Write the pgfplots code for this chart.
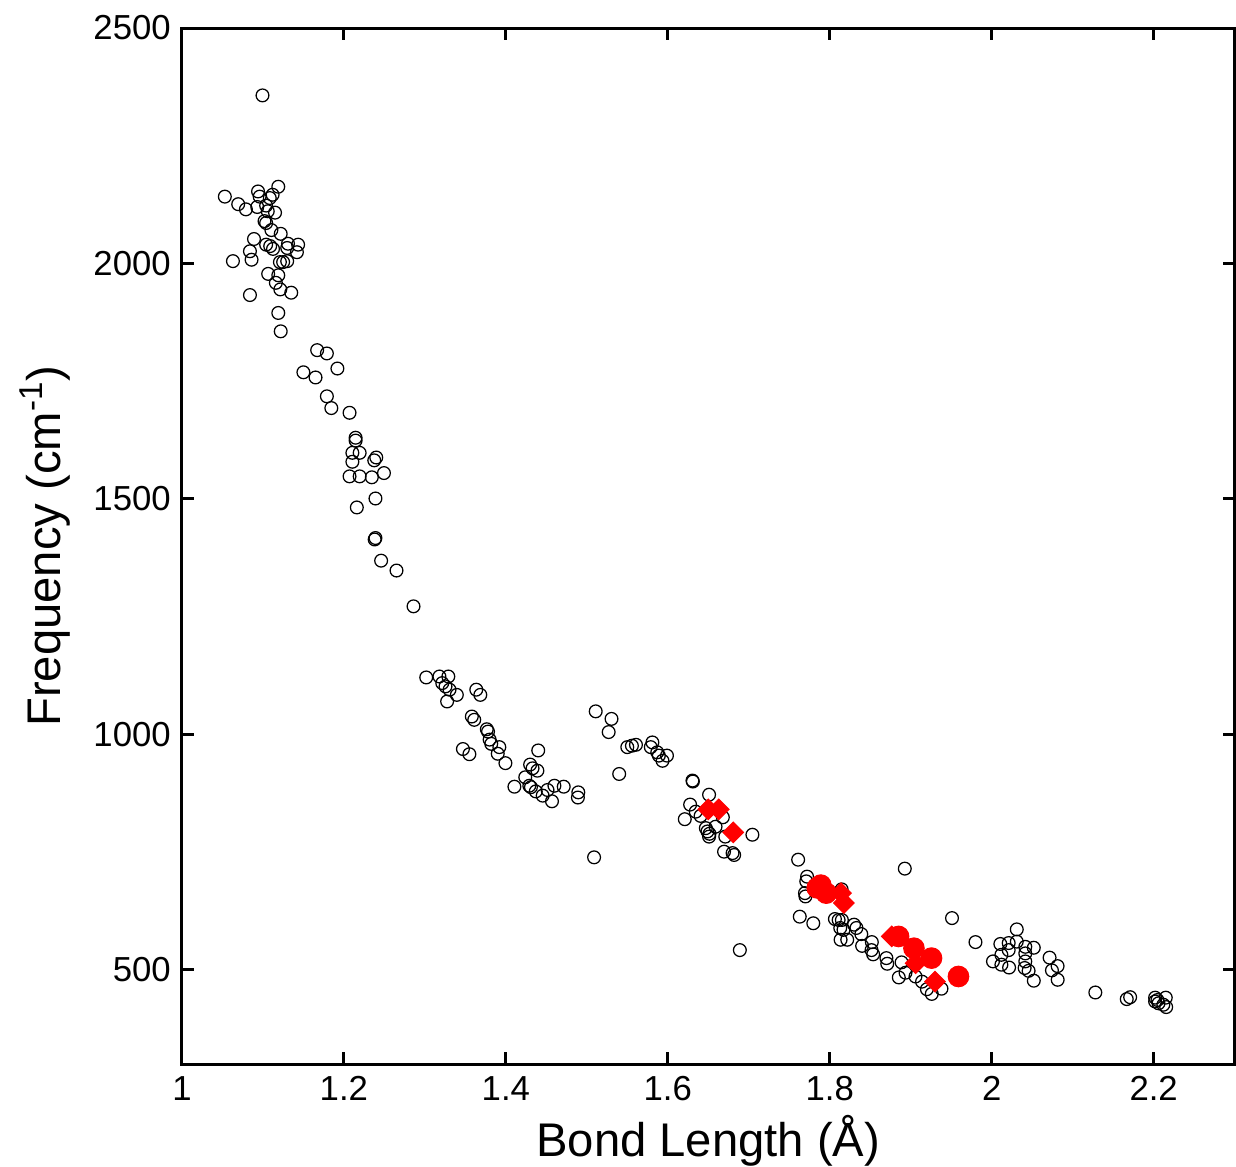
\documentclass[border=0pt]{standalone}
\usepackage{pgfplots}
\pgfplotsset{compat=1.18}
\usepackage{fontspec}
\setmainfont{Liberation Sans}
\begin{document}
\begin{tikzpicture}
\begin{axis}[
  name=ax,
  scale only axis,
  width=379pt, height=373pt,
  xmin=1, xmax=2.3, ymin=300, ymax=2500,
  xtick={1,1.2,...,2.21}, ytick={500,1000,...,2500},
  xticklabels={1,1.2,1.4,1.6,1.8,2,2.2},
  /pgf/number format/1000 sep={},
  tick align=inside, tick pos=both,
  major tick length=4.3pt,
  axis line style={line width=1.1pt},
  every tick/.style={line width=1.1pt, black},
  tick label style={font=\fontsize{12.5}{14}\selectfont},
  /pgf/number format/assume math mode=true,
  yticklabel style={xshift=-0.5pt},
  xticklabel style={yshift=-1pt},
  label style={font=\fontsize{17}{19}\selectfont},
  xlabel={Bond Length (Å)},
  ylabel={Frequency (cm\textsuperscript{-1})},
  xlabel style={at={(axis description cs:0.5,0)}, anchor=center, yshift=-27.5pt},
  ylabel style={at={(axis description cs:0,0.5)}, anchor=center, yshift=49.3pt},
  clip=false,
]
\addplot[only marks, mark=o, mark size=2.3pt, mark options={line width=0.45pt, black}] coordinates {
(1.0995,2357)(1.053,2142)(1.0695,2126)(1.079,2115)(1.094,2153)(1.096,2142)
(1.119,2163)(1.112,2146)(1.1085,2139)(1.093,2120)(1.104,2123)(1.106,2111)
(1.115,2108)(1.102,2090)(1.104,2086)(1.1105,2071)(1.122,2063)(1.089,2052)
(1.084,2026)(1.063,2005)(1.086,2008)(1.104,2040)(1.109,2037)(1.1125,2031)
(1.131,2042)(1.1435,2040)(1.130,2033)(1.142,2024)(1.121,2003)(1.130,2005)
(1.125,2003)(1.1065,1978)(1.119,1975)(1.116,1959)(1.1215,1945)(1.135,1938)
(1.084,1933)(1.119,1895)(1.122,1856)
(1.167,1816)(1.179,1809)(1.150,1769)(1.165,1758)(1.192,1777)(1.179,1718)
(1.1845,1693)(1.207,1683)(1.2145,1630)(1.2145,1624)(1.2105,1598)(1.2195,1598)
(1.2105,1579)(1.240,1588)(1.2375,1582)(1.207,1548)(1.2195,1548)(1.2345,1546)
(1.2495,1555)(1.239,1501)(1.216,1482)(1.238,1414)(1.239,1417)(1.246,1369)
(1.265,1348)(1.286,1272)
(1.3017,1121)(1.318,1123)(1.329,1123)(1.3215,1109)(1.3255,1102)(1.3305,1095)
(1.3395,1084)(1.3275,1070)(1.3635,1095)(1.3685,1084)(1.358,1038)(1.361,1031)
(1.3765,1011)(1.378,1006)(1.380,989)(1.382,980)(1.392,973)(1.390,959)
(1.3995,939)(1.347,969)(1.355,958)(1.440,966)(1.430,936)(1.433,928)
(1.439,923)(1.424,909)(1.4106,889)(1.429,891)(1.431,888)(1.437,879)
(1.4455,870)(1.4515,882)(1.460,891)(1.4715,889)(1.457,858)(1.4895,877)
(1.489,866)(1.511,1049)(1.509,739)
(1.5305,1033)(1.527,1005)(1.550,973)(1.5557,976)(1.5607,978)(1.581,983)
(1.579,973)(1.587,962)(1.589,955)(1.599,955)(1.5935,944)(1.540,916)
(1.6305,902)(1.6310,900)(1.651,872)(1.6276,851)(1.621,820)(1.6345,836)(1.6405,827)
(1.647,801)(1.649,794)(1.6515,789)(1.651,783)(1.659,804)(1.668,824)
(1.671,783)(1.6695,751)(1.680,748)(1.682,744)(1.7045,787)(1.689,542)
(1.761,734)(1.8927,715)(1.772,698)(1.771,688)(1.7694,663)(1.770,656)
(1.8147,671)(1.763,613)(1.7797,599)(1.8064,608)(1.811,606)(1.815,606)
(1.813,589)(1.817,585)(1.830,596)(1.833,589)(1.839,576)(1.8134,564)
(1.8216,564)(1.840,551)(1.852,559)(1.8516,542)(1.8536,533)(1.870,525)
(1.871,513)(1.8887,516)(1.8936,494)(1.8853,484)(1.9059,486)(1.914,475)
(1.920,459)(1.926,449)(1.938,460)(1.951,610)(1.980,559)
(2.031,586)(2.0107,555)(2.021,557)(2.031,560)(2.0415,549)(2.052,547)
(2.012,532)(2.021,542)(2.0415,535)(2.0016,518)(2.012,511)(2.0215,505)
(2.0415,518)(2.0407,504)(2.0456,498)(2.052,477)(2.0715,526)(2.0814,508)
(2.0744,499)(2.0815,479)(2.128,452)(2.1668,438)(2.171,442)(2.2018,441)
(2.2047,436)(2.215,441)(2.206,429)(2.212,426)(2.2155,421)(2.2018,433)
};
\addplot[only marks, mark=*, mark size=3.7pt, mark options={draw=red, fill=red}] coordinates {
(1.7846,674)(1.789,680)(1.7957,663)(1.885,571)(1.904,546)(1.9257,525)(1.959,486)
};
\addplot[only marks, mark=square*, mark size=2.6pt, mark options={draw=red, fill=red, rotate=45}] coordinates {
(1.650,841)(1.663,841)(1.6807,792)(1.814,663)(1.8175,642)(1.8766,571)(1.906,514)(1.930,475)
};
\end{axis}
\pgfresetboundingbox
\path[use as bounding box] ([xshift=-65.5pt,yshift=-37pt]ax.south west) rectangle ([xshift=0.5pt,yshift=10.1pt]ax.north east);
\end{tikzpicture}
\end{document}
